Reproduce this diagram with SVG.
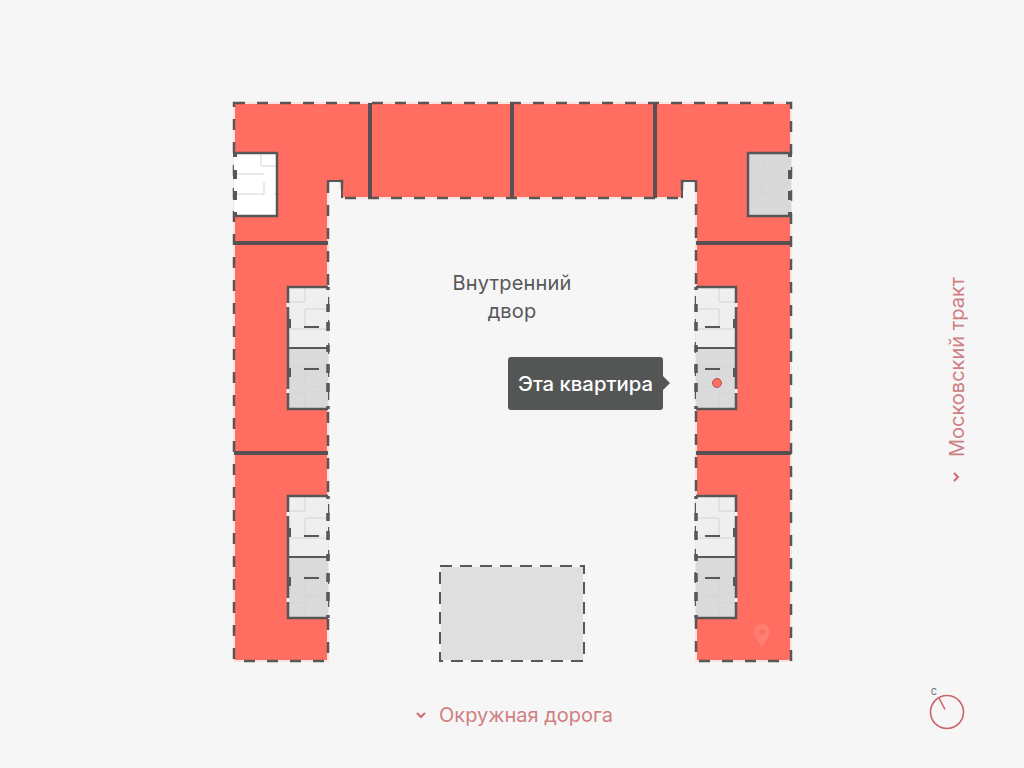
<svg xmlns="http://www.w3.org/2000/svg" xmlns:xlink="http://www.w3.org/1999/xlink" width="1024" height="768" viewBox="0 0 1024 768">
<style>
text{font-family:Inter,"Noto Sans",sans-serif}
.red{fill:#ff6e60}
.edge{fill:none;stroke:#f9e4df;stroke-width:2}
.dash{fill:none;stroke:#5a5556;stroke-width:2.5;stroke-dasharray:11 12}
.wall{fill:none;stroke:#5a5053;stroke-width:4}
.w3{fill:none;stroke:#5a5556;stroke-width:2.5}
.w2{fill:none;stroke:#5a5556;stroke-width:2}
.thin{fill:none;stroke:#d4d4d6;stroke-width:1}
.lab{fill:#575757;font-size:20px;letter-spacing:.15px}
.road{fill:#d07f82;font-size:20px}
.chev{fill:none;stroke:#d0696e;stroke-width:2}
</style>
<defs>
<g id="plan">
<rect x="0" y="0" width="40" height="61" fill="#efeff0"/>
<rect x="0" y="61" width="40" height="61" fill="#dadadb"/>
<path class="thin" d="M23 0V15H40M0 22H23V42M0 42H40M23 122V107H40M0 100H23V80M0 80H40"/>
<path class="w3" d="M0 0H40V122H0"/>
<path class="w2" d="M0 61H40"/>
<path class="w2" d="M9 40H24M9 82H24"/>
<path fill="none" stroke="#5a5556" stroke-width="4" d="M39 32V41M39 81V90"/>
<path fill="none" stroke="#f6f6f7" stroke-width="3" d="M40 16V20M40 102V106"/>
<path fill="none" stroke="#5a5556" stroke-width="3.5" d="M0 0V3M0 17V25M0 35V44M0 58V65M0 77V86M0 96V105M0 119V122"/>
</g>
<g id="corner">
<path class="thin" d="M27 0V13H43M0 21H30M30 29V41H0M40 41H43"/>
<path class="w3" d="M0 0H43V63H0"/>
<path fill="none" stroke="#5a5556" stroke-width="4" d="M1 0V4M1 17V26M1 38V47M1 59V63"/>
</g>
</defs>
<rect width="1024" height="768" fill="#f6f6f7"/>
<g id="building">
<path id="building-shape" class="red" d="M234 103H791V661H696V181H682V198H342V181H328V661H234Z"/>
<path class="edge" d="M234 103H791V661H696V181H682V198H342V181H328V661H234Z"/>
<path class="dash" d="M234 103H791V661H696V181H682V198H342V181H328V661H234Z"/>
<path fill="none" stroke="#5a5556" stroke-width="2" d="M328 190V181H342V198M682 198V181H696V190"/>
</g>
<g id="sections">
<path class="wall" d="M370 103V198M512 103V198M655 103V198M234 243H328M234 453H328M696 243H791M696 453H791"/>
</g>
<path id="watermark" fill="#ffffff" opacity=".12" fill-rule="evenodd" d="M762 624a8 8 0 0 1 8 8c0 5-5 9-8 15c-3-6-8-10-8-15a8 8 0 0 1 8-8ZM762 629a3 3 0 1 0 .01 0Z"/>
<g id="unit-top-left"><rect x="234" y="153" width="43" height="63" fill="#ffffff"/><use xlink:href="#corner" href="#corner" x="234" y="153"/></g>
<g id="unit-top-right"><rect x="747" y="153" width="44" height="63" fill="#d9d9da"/><use xlink:href="#corner" href="#corner" transform="translate(791 153) scale(-1 1)"/></g>
<g id="units-left-1"><use xlink:href="#plan" href="#plan" transform="translate(328 287) scale(-1 1)"/></g>
<g id="units-left-2"><use xlink:href="#plan" href="#plan" transform="translate(328 496) scale(-1 1)"/></g>
<g id="units-right-1"><use xlink:href="#plan" href="#plan" x="696" y="287"/></g>
<g id="units-right-2"><use xlink:href="#plan" href="#plan" x="696" y="496"/></g>
<g id="parking">
<rect x="440" y="566" width="144" height="95" fill="#e0dfe0"/>
<rect x="440" y="566" width="144" height="95" fill="none" stroke="#f6f6f7" stroke-width="2"/>
<rect x="440" y="566" width="144" height="95" fill="none" stroke="#5a5556" stroke-width="2" stroke-dasharray="12 8"/>
</g>
<g id="yard-label">
<text class="lab" x="512" y="290" text-anchor="middle">Внутренний</text>
<text class="lab" x="512" y="318" text-anchor="middle">двор</text>
</g>
<g id="marker"><circle cx="717" cy="383" r="4.5" fill="#ff6e60" stroke="#a85a55" stroke-width="1"/></g>
<g id="tooltip">
<path fill="#545656" d="M511 357H660Q663 357 663 360V376L670 383L663 390V407Q663 410 660 410H511Q508 410 508 407V360Q508 357 511 357Z"/>
<text x="518" y="391" fill="#ffffff" font-size="20" font-weight="500" textLength="135" lengthAdjust="spacingAndGlyphs">Эта квартира</text>
</g>
<g id="road-south">
<path class="chev" d="M417 713L421 717L425 713"/>
<text class="road" x="439" y="722">Окружная дорога</text>
</g>
<g id="road-east">
<path class="chev" d="M954 473L958 477L954 481"/>
<text class="road" transform="translate(964 457) rotate(-90)" x="0" y="0">Московский тракт</text>
</g>
<g id="compass">
<circle cx="947" cy="712" r="16.5" fill="none" stroke="#c9666b" stroke-width="1.6"/>
<path d="M939 698L945 709.5" fill="none" stroke="#c9666b" stroke-width="1.6"/>
<text x="934" y="695" font-size="11" fill="#77777a" text-anchor="middle">с</text>
</g>
</svg>
